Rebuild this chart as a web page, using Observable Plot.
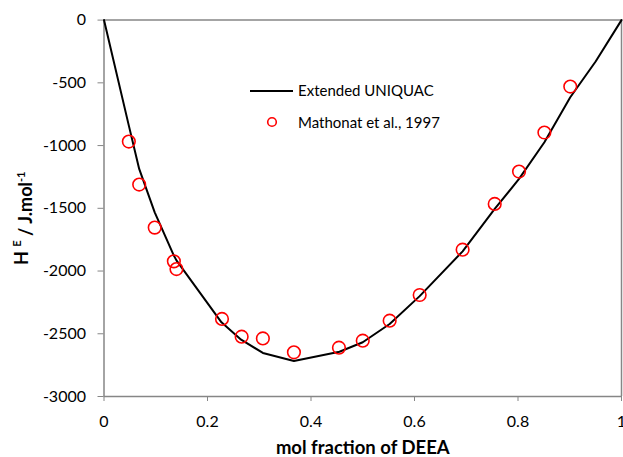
<!DOCTYPE html>
<html><head><meta charset="utf-8">
<script src="https://cdn.jsdelivr.net/npm/d3@7"></script>
<script src="https://cdn.jsdelivr.net/npm/@observablehq/plot@0.6"></script>
<style>
body{margin:0;background:#fff;}
#wrap{position:relative;width:623px;height:457px;font-family:Lato,sans-serif;color:#000;}
#legend{position:absolute;left:250px;top:75px;font-size:15px;line-height:31.5px;}
#legend div{display:flex;align-items:center;height:31.5px;}
#legend svg{margin-right:5px;}
</style></head><body><div id="wrap"></div>
<script>
// Extended UNIQUAC model curve
const modelX = [0, 0.048, 0.068, 0.098, 0.135, 0.14, 0.227, 0.265, 0.307, 0.367, 0.455, 0.5, 0.552, 0.61, 0.693, 0.755, 0.802, 0.851, 0.901, 0.95, 1];
const modelY = [0, -841, -1186, -1532, -1877, -1915, -2409, -2547, -2653, -2717, -2643, -2568, -2422, -2200, -1843, -1505, -1266, -974, -615, -330, 0];
// Mathonat et al., 1997 experimental points
const expX = [0.048, 0.068, 0.098, 0.135, 0.14, 0.228, 0.266, 0.307, 0.367, 0.454, 0.5, 0.552, 0.61, 0.693, 0.755, 0.802, 0.851, 0.901];
const expY = [-968, -1311, -1654, -1923, -1984, -2382, -2523, -2537, -2648, -2611, -2555, -2396, -2191, -1830, -1465, -1207, -896, -530];
const xTicks = [0, 0.2, 0.4, 0.6, 0.8, 1];
const xTickLabels = ["0", "0.2", "0.4", "0.6", "0.8", "1"];
const yTicks = [0, -500, -1000, -1500, -2000, -2500, -3000];
const yTickLabels = ["0", "-500", "-1000", "-1500", "-2000", "-2500", "-3000"];
const seriesNames = ["Extended UNIQUAC", "Mathonat et al., 1997"];
const xTitle = "mol fraction of DEEA";

const model = modelX.map((x, i) => ({x, y: modelY[i]}));
const exp = expX.map((x, i) => ({x, y: expY[i]}));
const axisColor = "#868686";

const plot = Plot.plot({
  width: 623, height: 457,
  marginLeft: 103.5, marginRight: 2, marginTop: 19.6, marginBottom: 61,
  style: {fontFamily: "Lato, sans-serif", fontSize: "16px", color: "#000", background: "white", overflow: "visible"},
  x: {domain: [0, 1]},
  y: {domain: [-3000, 0]},
  marks: [
    Plot.ruleY([0, -3000], {stroke: axisColor, strokeWidth: 1.5}),
    Plot.ruleX([0, 1], {stroke: axisColor, strokeWidth: 1.5}),
    Plot.axisX({ticks: xTicks, tickFormat: d => xTickLabels[xTicks.indexOf(d)], tickSize: 5, tickPadding: 14, stroke: axisColor, fill: "#000", label: null, fontSize: 16}),
    Plot.axisY({ticks: yTicks, tickFormat: d => yTickLabels[yTicks.indexOf(d)], tickSize: 6, tickPadding: 12, stroke: axisColor, fill: "#000", label: null, fontSize: 16}),
    Plot.line(model, {x: "x", y: "y", stroke: "black", strokeWidth: 2}),
    Plot.dot(exp, {x: "x", y: "y", r: 6.3, stroke: "#ff0000", strokeWidth: 1.6, fill: "none"}),
    Plot.text([xTitle], {frameAnchor: "bottom", dy: 57, text: d => d, fontWeight: "bold", fontSize: 18.5}),
    Plot.text(["H"], {className: "ylab", frameAnchor: "left", textAnchor: "middle", dx: -82, dy: 10, rotate: -90, text: d => d, fontWeight: "bold", fontSize: 18})
  ]
});

// Build the y-axis title with superscripts
d3.select(plot).selectAll(".ylab text").each(function() {
  const t = d3.select(this);
  t.text(null);
  t.append("tspan").text("H ");
  t.append("tspan").attr("font-size", 11).attr("dy", "-0.6em").text("E");
  t.append("tspan").attr("dy", "0.6em").text(" / J.mol");
  t.append("tspan").attr("font-size", 11).attr("dy", "-0.6em").text("-1");
});

const wrap = document.getElementById("wrap");
wrap.appendChild(plot);

const legend = document.createElement("div");
legend.id = "legend";
legend.innerHTML =
  `<div><svg width="43" height="10"><line x1="0" x2="43" y1="5" y2="5" stroke="black" stroke-width="2"/></svg><span>${seriesNames[0]}</span></div>` +
  `<div><svg width="43" height="12"><circle cx="22" cy="6" r="4.3" fill="none" stroke="#ff0000" stroke-width="1.6"/></svg><span>${seriesNames[1]}</span></div>`;
wrap.appendChild(legend);
</script>
</body></html>
